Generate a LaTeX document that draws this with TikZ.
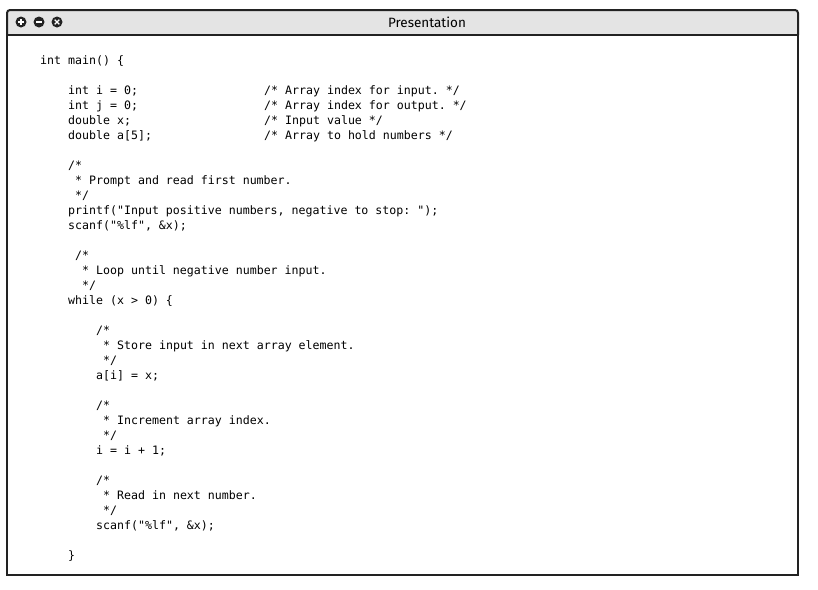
\documentclass[tikz,border=0pt]{standalone}
\usepackage{fontspec}
\setmainfont{DejaVu Sans}
\setmonofont{DejaVu Sans Mono}
\newfontfamily\titlefont{Fira Sans}
\definecolor{frame}{HTML}{222222}
\definecolor{titlebg}{HTML}{E4E4E4}
\begin{document}
\begin{tikzpicture}[x=1pt,y=-1pt,
  code/.style={anchor=base west,inner sep=0pt,font=\ttfamily\fontsize{11.6}{14}\selectfont,text=black},
  icon/.style={circle,fill=frame,minimum size=11pt,inner sep=0pt},
  iconmark/.style={white,line width=1.6pt}]
\useasboundingbox (0,0) rectangle (818,589);
% window
\fill[titlebg,rounded corners=3pt] (7,10) -- (798,10) -- (798,35) -- (7,35) -- cycle;
\draw[frame,line width=2pt,rounded corners=3pt] (7,35) -- (7,10) -- (798,10) -- (798,35);
\draw[frame,line width=2pt] (7,35) -- (7,575) -- (798,575) -- (798,35);
\draw[frame,line width=2pt] (7,35) -- (798,35);
\node[icon] (plus) at (21,22) {};
\draw[iconmark] ([xshift=-3pt]plus.center) -- ([xshift=3pt]plus.center) ([yshift=-3pt]plus.center) -- ([yshift=3pt]plus.center);
\node[icon] (minus) at (39,22) {};
\draw[iconmark] ([xshift=-3pt]minus.center) -- ([xshift=3pt]minus.center);
\node[icon] (close) at (57,22) {};
\draw[iconmark,line width=1.4pt] ([shift={(-2.3pt,-2.3pt)}]close.center) -- ([shift={(2.3pt,2.3pt)}]close.center) ([shift={(-2.3pt,2.3pt)}]close.center) -- ([shift={(2.3pt,-2.3pt)}]close.center);
\node[font=\titlefont\fontsize{13.5}{15}\selectfont,text=black] (title) at (427,22.5) {Presentation};
% code
\node[code] (l0) at (40,64) {int main() \{};
\node[code] (l2) at (68,94) {int i = 0;};
\node[code] (c2) at (264,94) {/* Array index for input. */};
\node[code] (l3) at (68,109) {int j = 0;};
\node[code] (c3) at (264,109) {/* Array index for output. */};
\node[code] (l4) at (68,124) {double x;};
\node[code] (c4) at (264,124) {/* Input value */};
\node[code] (l5) at (68,139) {double a[5];};
\node[code] (c5) at (264,139) {/* Array to hold numbers */};
\node[code] (l7) at (68,169) {/*};
\node[code] (l8) at (68,184) {\ * Prompt and read first number.};
\node[code] (l9) at (68,199) {\ */};
\node[code] (l10) at (68,214) {printf("Input positive numbers, negative to stop: ");};
\node[code] (l11) at (68,229) {scanf("\%lf", \&x);};
\node[code] (l13) at (75,259) {/*};
\node[code] (l14) at (75,274) {\ * Loop until negative number input.};
\node[code] (l15) at (75,289) {\ */};
\node[code] (l16) at (68,304) {while (x > 0) \{};
\node[code] (l18) at (96,334) {/*};
\node[code] (l19) at (96,349) {\ * Store input in next array element.};
\node[code] (l20) at (96,364) {\ */};
\node[code] (l21) at (96,379) {a[i] = x;};
\node[code] (l23) at (96,409) {/*};
\node[code] (l24) at (96,424) {\ * Increment array index.};
\node[code] (l25) at (96,439) {\ */};
\node[code] (l26) at (96,454) {i = i + 1;};
\node[code] (l28) at (96,484) {/*};
\node[code] (l29) at (96,499) {\ * Read in next number.};
\node[code] (l30) at (96,514) {\ */};
\node[code] (l31) at (96,529) {scanf("\%lf", \&x);};
\node[code] (l33) at (68,559) {\}};
\end{tikzpicture}
\end{document}
